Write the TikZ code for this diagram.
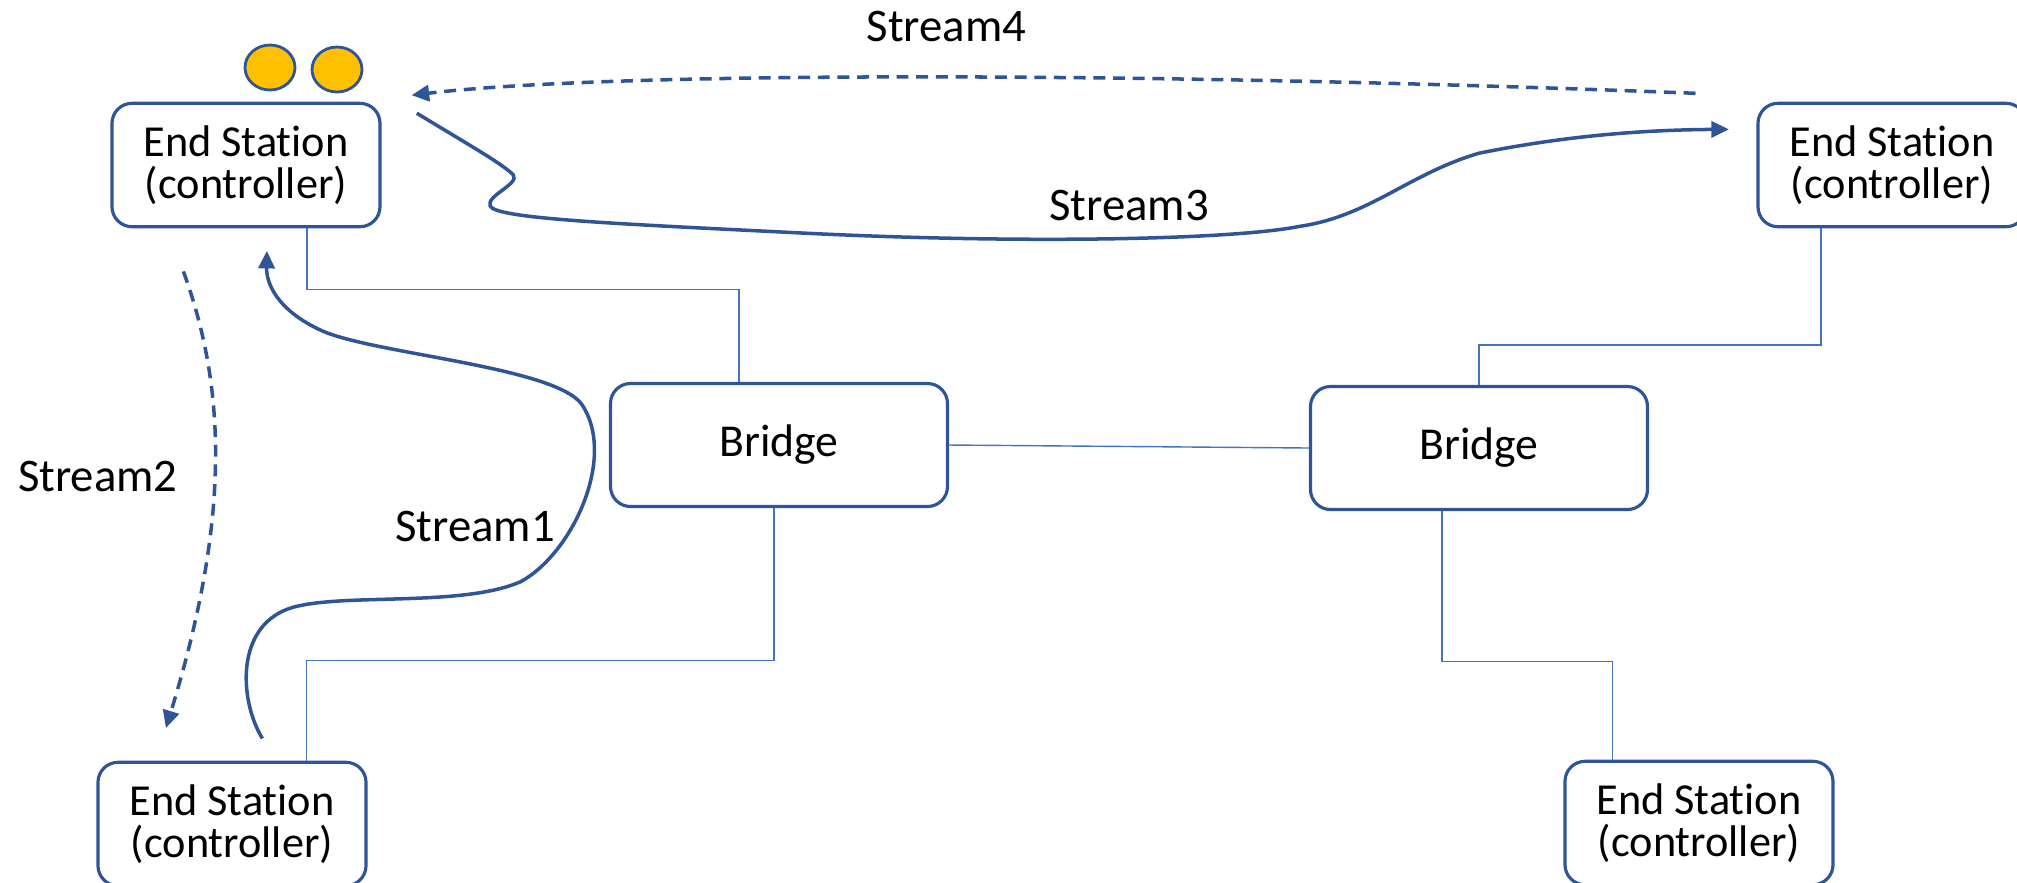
\documentclass[tikz,border=0pt]{standalone}
\usepackage{fontspec}
\setmainfont{Carlito}[Ligatures=NoCommon]
\usepackage{xcolor}
\usepackage{tikz}
\usetikzlibrary{arrows.meta,shapes.geometric}
\definecolor{boxblue}{HTML}{2F5597}
\definecolor{linkblue}{HTML}{4472C4}
\definecolor{tokengold}{HTML}{FFC000}
\tikzstyle{station} = [rectangle, rounded corners=0.2cm, draw=boxblue, line width=0.9pt, minimum width=2.68cm, minimum height=1.234cm, align=center, font=\fontsize{12.6}{11.9}\selectfont]
\tikzstyle{bridge} = [rectangle, rounded corners=0.2cm, draw=boxblue, line width=0.9pt, minimum width=3.37cm, minimum height=1.23cm, font=\fontsize{13}{15}\selectfont]
\tikzstyle{token} = [ellipse, fill=tokengold, draw=boxblue, line width=0.8pt, minimum width=0.5cm, minimum height=0.45cm, inner sep=0pt]
\tikzstyle{link} = [draw=linkblue, line width=0.4pt]
\tikzstyle{stream} = [draw=boxblue, line width=1pt]
\tikzstyle{streamdash} = [dash pattern=on 3.4pt off 2.2pt]
\tikzstyle{arrow} = [-{Triangle[length=5pt,width=4.6pt]}]
\tikzstyle{streamtext} = [font=\fontsize{13.3}{16}\selectfont, inner sep=0pt]

\begin{document}
\begin{tikzpicture}[node distance=2.8cm]
		\useasboundingbox (0,0) rectangle (20.17,-8.82);

		\node (es1) [station] at (2.46,-1.65) {End Station\\(controller)};
		\node (br1) [bridge, below of=es1, xshift=5.33cm] {Bridge};
		\node (br2) [bridge, right of=br1, xshift=4.2cm, yshift=-0.03cm] {Bridge};
		\node (es2) [station, right of=es1, xshift=13.66cm] {End Station\\(controller)};
		\node (es3) [station, below of=es1, xshift=-0.14cm, yshift=-3.79cm] {End Station\\(controller)};
		\node (es4) [station, right of=es3, xshift=11.87cm, yshift=0.01cm] {End Station\\(controller)};
		\node (tok1) [token] at (2.70,-0.675) {};
		\node (tok2) [token] at (3.37,-0.695) {};

		\draw [link] ([xshift=0.61cm]es1.south) -- ++(0,-0.61) -| ([xshift=-0.4cm]br1.north);
		\draw [link] ([xshift=-0.71cm]es2.south) -- ++(0,-1.166) -| (br2.north);
		\draw [link] (br1.east) -- (br2.west);
		\draw [link] ([xshift=-0.05cm]br1.south) -- ++(0,-1.523) -| ([xshift=0.745cm]es3.north);
		\draw [link] ([xshift=-0.37cm]br2.south) -- ++(0,-1.503) -| ([xshift=-0.867cm]es4.north);

		\coordinate (s1from) at (2.624,-7.384);
		\coordinate (s1to) at (2.669,-2.508);
		\coordinate (s2from) at (1.834,-2.714);
		\coordinate (s2to) at (1.659,-7.281);
		\coordinate (s3from) at (4.168,-1.132);
		\coordinate (s3to) at (17.289,-1.293);
		\coordinate (s4from) at (16.955,-0.933);
		\coordinate (s4to) at (4.116,-0.952);

		\draw [stream, arrow] (s1from) .. controls (2.393,-7.011) and (2.341,-6.239) .. (2.933,-6.072) .. controls (3.448,-5.930) and (4.631,-6.072) .. (5.210,-5.815) .. controls (5.724,-5.532) and (6.175,-4.567) .. (5.815,-4.039) .. controls (5.532,-3.666) and (3.731,-3.538) .. (3.216,-3.306) .. controls (2.766,-3.100) and (2.663,-2.830) .. (s1to);
		\draw [stream, streamdash, arrow] (s2from) .. controls (2.251,-3.859) and (2.316,-5.146) .. (s2to);
		\draw [stream, arrow] (s3from) .. controls (4.631,-1.415) and (5.043,-1.647) .. (5.133,-1.750) .. controls (5.197,-1.840) and (4.863,-1.955) .. (4.901,-2.058) .. controls (4.940,-2.187) and (6.175,-2.238) .. (7.976,-2.328) .. controls (10.291,-2.444) and (12.349,-2.393) .. (12.993,-2.264) .. controls (13.700,-2.161) and (14.086,-1.737) .. (14.794,-1.531) .. controls (15.694,-1.351) and (16.466,-1.299) .. (s3to);
		\draw [stream, streamdash, arrow] (s4from) .. controls (11.578,-0.720) and (6.175,-0.708) .. (s4to);

		\node (lab1) [streamtext] at (4.75,-5.265) {Stream1};
		\node (lab2) [streamtext] at (0.978,-4.765) {Stream2};
		\node (lab3) [streamtext] at (11.29,-2.05) {Stream3};
		\node (lab4) [streamtext] at (9.465,-0.265) {Stream4};
	\end{tikzpicture}
\end{document}
